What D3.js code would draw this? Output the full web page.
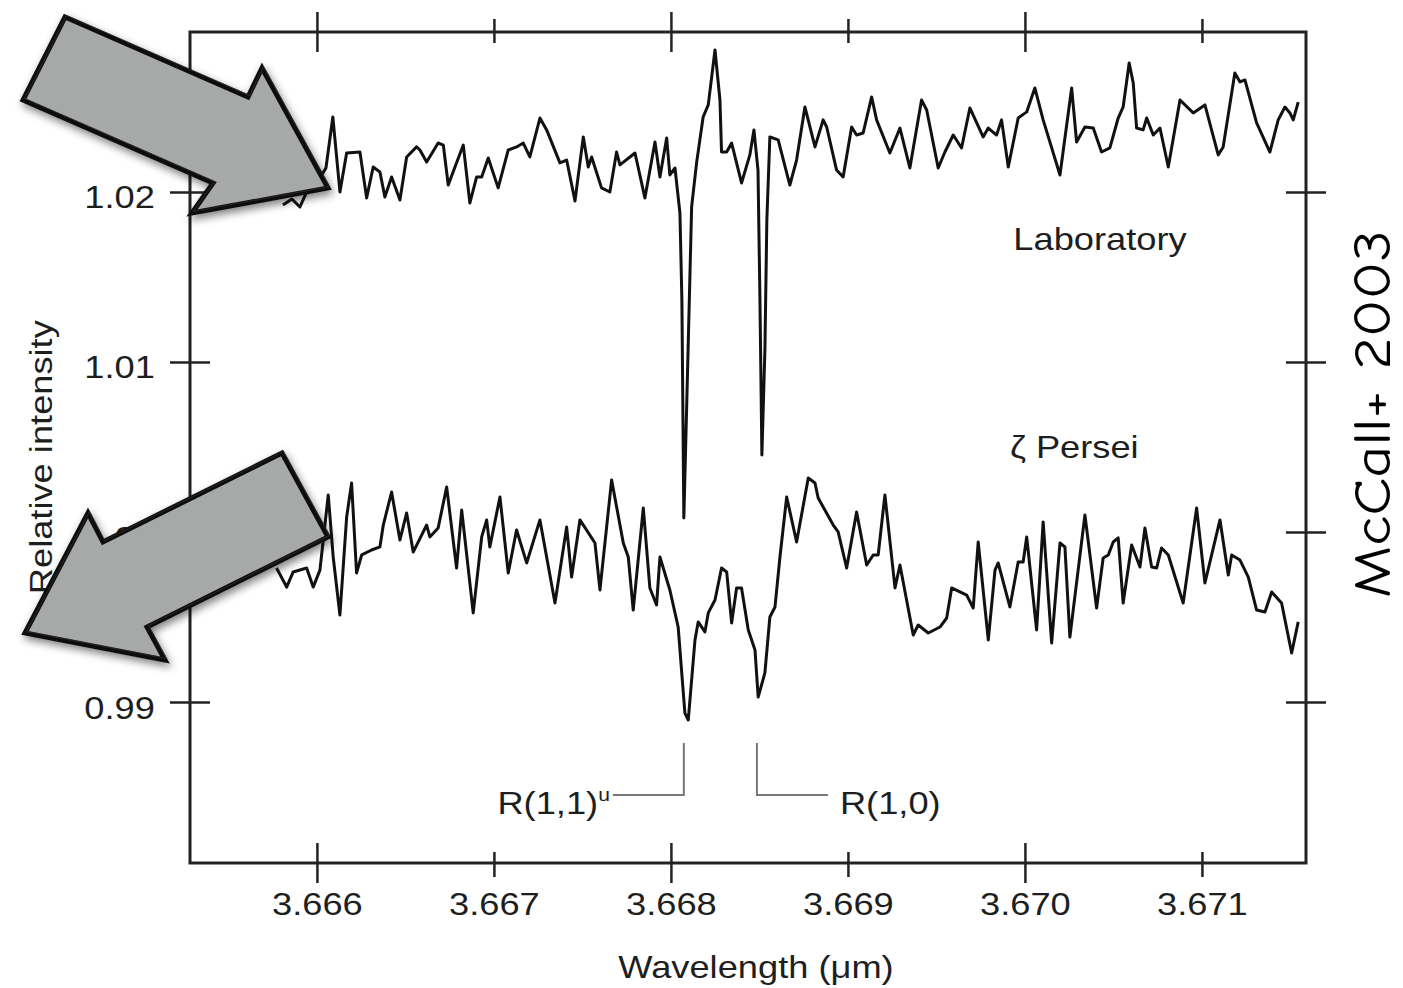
<!DOCTYPE html>
<html>
<head>
<meta charset="utf-8">
<script src="https://cdn.jsdelivr.net/npm/d3@7"></script>
<style>
  html,body{margin:0;padding:0;background:#fff;}
  svg text{font-family:"Liberation Sans",Arial,Helvetica,sans-serif;fill:#1e1e1e;}
</style>
</head>
<body>
<svg id="chart" width="1403" height="988"></svg>
<script>

// ---- spectra (wavelength in um, relative intensity) ----
var labWave = [
  3.665808,3.665859,3.665904,3.665960,3.666017,3.666051,3.666090,3.666130,3.666168,3.666243,
  3.666281,3.666318,3.666356,3.666384,3.666422,3.666469,3.666507,3.666563,3.666582,3.666620,
  3.666685,3.666714,3.666742,3.666780,3.666827,3.666864,3.666902,3.666931,3.666968,3.667024,
  3.667081,3.667128,3.667166,3.667203,3.667260,3.667298,3.667373,3.667411,3.667458,3.667505,
  3.667533,3.667552,3.667608,3.667655,3.667693,3.667712,3.667797,3.667853,3.667910,3.667938,
  3.667976,3.667994,3.668023,3.668051,3.668062,3.668073,3.668090,3.668117,3.668145,3.668182,
  3.668211,3.668249,3.668277,3.668286,3.668315,3.668343,3.668399,3.668446,3.668469,3.668492,
  3.668503,3.668514,3.668531,3.668542,3.668559,3.668606,3.668672,3.668710,3.668757,3.668814,
  3.668860,3.668880,3.668936,3.668973,3.669021,3.669049,3.669086,3.669134,3.669162,3.669237,
  3.669294,3.669350,3.669416,3.669445,3.669510,3.669548,3.669595,3.669642,3.669689,3.669764,
  3.669793,3.669840,3.669868,3.669906,3.669962,3.670010,3.670056,3.670103,3.670198,3.670264,
  3.670292,3.670339,3.670386,3.670433,3.670480,3.670527,3.670555,3.670589,3.670612,3.670631,
  3.670668,3.670688,3.670725,3.670763,3.670810,3.670876,3.670951,3.671017,3.671092,3.671120,
  3.671186,3.671215,3.671243,3.671309,3.671384,3.671431,3.671469,3.671497,3.671516,3.671544
];
var labInt = [
  1.01924,1.01959,1.01912,1.02041,1.02082,1.02141,1.02441,1.02000,1.02229,1.02235,
  1.01965,1.02147,1.02118,1.01971,1.02088,1.01953,1.02206,1.02265,1.02247,1.02176,
  1.02288,1.02276,1.02041,1.02147,1.02276,1.01935,1.02088,1.02088,1.02200,1.02024,
  1.02247,1.02265,1.02288,1.02206,1.02435,1.02365,1.02171,1.02188,1.01947,1.02324,
  1.02147,1.02206,1.02024,1.02000,1.02235,1.02159,1.02229,1.01965,1.02294,1.02088,
  1.02318,1.02100,1.02141,1.01876,1.01365,1.00082,1.00776,1.01912,1.02171,1.02441,
  1.02512,1.02835,1.02541,1.02235,1.02235,1.02288,1.02053,1.02218,1.02365,1.02129,
  1.01365,1.00453,1.01071,1.01835,1.02324,1.02306,1.02041,1.02188,1.02500,1.02265,
  1.02424,1.02382,1.02129,1.02088,1.02382,1.02335,1.02347,1.02559,1.02424,1.02229,
  1.02376,1.02141,1.02541,1.02482,1.02141,1.02235,1.02335,1.02259,1.02494,1.02324,
  1.02376,1.02335,1.02424,1.02147,1.02435,1.02471,1.02612,1.02424,1.02100,1.02612,
  1.02294,1.02382,1.02376,1.02235,1.02259,1.02435,1.02500,1.02759,1.02641,1.02376,
  1.02365,1.02435,1.02335,1.02376,1.02147,1.02541,1.02465,1.02512,1.02218,1.02265,
  1.02700,1.02647,1.02659,1.02406,1.02235,1.02424,1.02500,1.02465,1.02424,1.02529
];

var perWave = [
  3.665772,3.665829,3.665866,3.665942,3.665979,3.666017,3.666064,3.666092,3.666130,3.666168,
  3.666196,3.666224,3.666253,3.666309,3.666356,3.666375,3.666422,3.666469,3.666507,3.666544,
  3.666620,3.666638,3.666685,3.666733,3.666789,3.666818,3.666883,3.666931,3.666959,3.666977,
  3.667034,3.667081,3.667128,3.667185,3.667260,3.667345,3.667411,3.667439,3.667486,3.667571,
  3.667599,3.667665,3.667731,3.667759,3.667787,3.667844,3.667881,3.667919,3.667938,3.667994,
  3.668041,3.668079,3.668098,3.668136,3.668154,3.668192,3.668211,3.668249,3.668286,3.668315,
  3.668343,3.668371,3.668399,3.668437,3.668475,3.668493,3.668531,3.668559,3.668588,3.668616,
  3.668654,3.668710,3.668776,3.668814,3.668832,3.668917,3.668945,3.668993,3.669049,3.669106,
  3.669143,3.669171,3.669209,3.669266,3.669294,3.669369,3.669397,3.669454,3.669520,3.669558,
  3.669586,3.669671,3.669708,3.669736,3.669793,3.669831,3.669849,3.669915,3.669962,3.669990,
  3.670010,3.670066,3.670103,3.670151,3.670198,3.670226,3.670254,3.670339,3.670405,3.670442,
  3.670471,3.670499,3.670527,3.670555,3.670603,3.670650,3.670678,3.670716,3.670744,3.670772,
  3.670810,3.670894,3.670970,3.671017,3.671102,3.671149,3.671168,3.671215,3.671262,3.671309,
  3.671356,3.671394,3.671450,3.671507,3.671544
];
var perInt = [
  0.99788,0.99676,0.99765,0.99788,0.99676,0.99776,1.00218,0.99853,0.99512,1.00088,
  1.00288,0.99759,0.99865,0.99894,0.99912,1.00041,1.00235,0.99953,1.00112,0.99882,
  1.00041,0.99971,1.00024,1.00265,0.99788,1.00129,0.99524,0.99971,1.00071,0.99912,
  1.00206,0.99759,1.00012,0.99818,1.00071,0.99582,1.00029,0.99735,1.00071,0.99935,
  0.99659,1.00306,0.99935,0.99853,0.99541,1.00141,0.99671,0.99571,0.99853,0.99659,
  0.99441,0.98935,0.98894,0.99365,0.99471,0.99412,0.99524,0.99600,0.99788,0.99765,
  0.99465,0.99671,0.99671,0.99424,0.99306,0.99029,0.99171,0.99500,0.99559,0.99853,
  1.00206,0.99941,1.00318,1.00288,1.00200,1.00041,1.00000,0.99788,1.00118,0.99806,
  0.99865,0.99865,1.00218,0.99671,0.99806,0.99394,0.99453,0.99406,0.99441,0.99494,
  0.99671,0.99629,0.99553,0.99941,0.99365,0.99776,0.99818,0.99559,0.99824,0.99824,
  0.99971,0.99424,1.00059,0.99347,0.99935,0.99912,0.99382,1.00100,0.99553,0.99847,
  0.99865,0.99941,0.99965,0.99582,0.99924,0.99794,1.00024,0.99794,0.99788,0.99906,
  0.99865,0.99582,1.00141,0.99700,1.00071,0.99747,0.99865,0.99835,0.99735,0.99541,
  0.99529,0.99647,0.99582,0.99288,0.99471
];

// axis ticks and labels
var xTicks = [3.666, 3.667, 3.668, 3.669, 3.670, 3.671];
var xTickLabels = ["3.666", "3.667", "3.668", "3.669", "3.670", "3.671"];
var yTicks = [0.99, 1.00, 1.01, 1.02];
var yTickLabels = ["0.99", "1.00", "1.01", "1.02"];

// line identifications (wavelength of each absorption)
var lineNames = ["R(1,1)", "R(1,0)"];
var lineWave = [3.668073, 3.668486];

var svg = d3.select("#chart");
var sx = 1.17; // the scanned figure's lettering is a little wide

var frame = {left:190, right:1306, top:32, bottom:863};
var x = d3.scaleLinear().domain([3.665283, 3.671588]).range([frame.left, frame.right]);
var y = d3.scaleLinear().domain([0.98053, 1.02941]).range([frame.bottom, frame.top]);

// shadow for the pasted arrows
var defs = svg.append("defs");
var f = defs.append("filter").attr("id","shadow")
  .attr("x","-20%").attr("y","-20%").attr("width","140%").attr("height","140%");
f.append("feGaussianBlur").attr("in","SourceAlpha").attr("stdDeviation",4).attr("result","b");
f.append("feOffset").attr("in","b").attr("dx",2).attr("dy",4).attr("result","o");
f.append("feComponentTransfer").attr("in","o").attr("result","s")
  .append("feFuncA").attr("type","linear").attr("slope",0.5);
var fm = f.append("feMerge");
fm.append("feMergeNode").attr("in","s");
fm.append("feMergeNode").attr("in","SourceGraphic");

// frame
svg.append("rect")
  .attr("x",frame.left).attr("y",frame.top)
  .attr("width",frame.right-frame.left).attr("height",frame.bottom-frame.top)
  .attr("fill","none").attr("stroke","#222").attr("stroke-width",3);

// ticks cross the frame, alternating long/short on the x axis
function longTick(i){ return i%2==0; }

var gBottom = svg.append("g").attr("transform","translate(0,"+frame.bottom+")")
  .call(d3.axisBottom(x).tickValues(xTicks).tickFormat(function(d,i){return xTickLabels[i];}).tickSizeOuter(0));
gBottom.select(".domain").remove();
gBottom.selectAll(".tick line")
  .attr("y1",function(d,i){return longTick(i)?-20:-11;})
  .attr("y2",function(d,i){return longTick(i)?20:14;})
  .attr("stroke","#222").attr("stroke-width",2.5);
gBottom.selectAll(".tick text")
  .attr("y",52).attr("dy",null)
  .attr("transform","scale("+sx+",1)")
  .style("font-size","31px").style("fill","#1e1e1e")
  .style("font-family",'"Liberation Sans",Arial,sans-serif');

var gTop = svg.append("g").attr("transform","translate(0,"+frame.top+")")
  .call(d3.axisTop(x).tickValues(xTicks).tickFormat("").tickSizeOuter(0));
gTop.select(".domain").remove();
gTop.selectAll(".tick line")
  .attr("y1",function(d,i){return longTick(i)?-20:-13;})
  .attr("y2",function(d,i){return longTick(i)?20:11;})
  .attr("stroke","#222").attr("stroke-width",2.5);

var gLeft = svg.append("g").attr("transform","translate("+frame.left+",0)")
  .call(d3.axisLeft(y).tickValues(yTicks).tickFormat(function(d,i){return yTickLabels[i];}).tickSizeOuter(0));
gLeft.select(".domain").remove();
gLeft.selectAll(".tick line").attr("x1",-20).attr("x2",20).attr("stroke","#222").attr("stroke-width",2.5);
gLeft.selectAll(".tick text")
  .attr("x",-30).attr("y",16).attr("dy",null)
  .attr("transform","scale("+sx+",1)")
  .style("font-size","31px").style("fill","#1e1e1e")
  .style("font-family",'"Liberation Sans",Arial,sans-serif');

var gRight = svg.append("g").attr("transform","translate("+frame.right+",0)")
  .call(d3.axisRight(y).tickValues(yTicks).tickFormat("").tickSizeOuter(0));
gRight.select(".domain").remove();
gRight.selectAll(".tick line").attr("x1",-20).attr("x2",20).attr("stroke","#222").attr("stroke-width",2.5);

// axis titles
svg.append("text")
  .attr("transform","translate("+((frame.left+frame.right)/2 + 8)+",978) scale("+sx+",1)")
  .attr("text-anchor","middle").style("font-size","31px")
  .text("Wavelength (\u03bcm)");

svg.append("text")
  .attr("transform","translate(52,"+y(1.0044)+") rotate(-90) scale("+sx+",1)")
  .attr("text-anchor","middle").style("font-size","31px")
  .text("Relative intensity");

// the two spectra
var line = d3.line()
  .x(function(d){return x(d[0]);})
  .y(function(d){return y(d[1]);});

var labData = labWave.map(function(w,i){return [w, labInt[i]];});
var perData = perWave.map(function(w,i){return [w, perInt[i]];});

[labData, perData].forEach(function(data){
  svg.append("path")
    .datum(data)
    .attr("d", line)
    .attr("fill","none")
    .attr("stroke","#111")
    .attr("stroke-width",3)
    .attr("stroke-linejoin","round");
});

// series labels
svg.append("text")
  .attr("transform","translate("+x(3.670424)+","+y(1.01659)+") scale("+sx+",1)")
  .attr("text-anchor","middle").style("font-size","31px")
  .text("Laboratory");

svg.append("text")
  .attr("transform","translate("+x(3.669915)+","+y(1.00435)+") scale("+sx+",1)")
  .attr("text-anchor","start").style("font-size","31px")
  .text("\u03b6 Persei");

// brackets marking the two H3+ lines
var bTop = y(0.98759), bBot = y(0.98453);
var bracketEnds = [3.667672, 3.668887];
lineWave.forEach(function(w,i){
  var xa = x(w), xb = x(bracketEnds[i]);
  svg.append("path")
    .attr("d","M"+xa+","+bTop+"V"+bBot+"H"+xb)
    .attr("fill","none").attr("stroke","#777").attr("stroke-width",2);
});

var lab1 = svg.append("text")
  .attr("transform","translate("+(x(bracketEnds[0])-3)+",814) scale("+sx+",1)")
  .attr("text-anchor","end").style("font-size","31px");
lab1.append("tspan").text(lineNames[0]);
lab1.append("tspan").attr("dy",-13).style("font-size","18px").text("u");

svg.append("text")
  .attr("transform","translate("+(x(bracketEnds[1])+12)+",814) scale("+sx+",1)")
  .attr("text-anchor","start").style("font-size","31px")
  .text(lineNames[1]);

// credit
svg.append("text")
  .attr("transform","translate(1390,414) rotate(-90)")
  .attr("text-anchor","middle")
  .attr("textLength",368).attr("lengthAdjust","spacingAndGlyphs")
  .style("font-family",'"Comic Sans MS","Comic Neue","Open Sans",sans-serif')
  .style("font-size","52px").style("fill","#000")
  .text("McCall+ 2003");

// big grey pointer arrows pasted over the figure
var arrowShapes = [
  [[65,17],[248,97],[262,68],[328,188],[192,213],[213,183],[23,100]],
  [[282,453],[328,537],[147,627],[165,660],[25,633],[88,513],[103,542]]
];
arrowShapes.forEach(function(pts){
  var g = svg.append("g").attr("filter","url(#shadow)");
  g.append("polygon")
    .attr("points",pts.map(function(p){return p.join(",");}).join(" "))
    .attr("fill","#a6a9a8").attr("stroke","#111").attr("stroke-width",5)
    .attr("stroke-linejoin","miter");
  // a second faint pass for the hand-drawn edge
  svg.append("polygon")
    .attr("points",pts.map(function(p){return (p[0]+1.5)+","+(p[1]-1.5);}).join(" "))
    .attr("fill","none").attr("stroke","#333").attr("stroke-width",1.2).attr("opacity",0.6);
});

</script>
</body>
</html>
